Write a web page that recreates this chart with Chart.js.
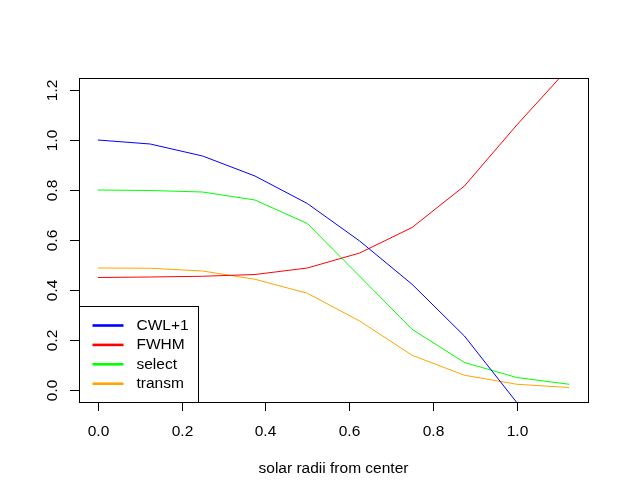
<!DOCTYPE html>
<html><head><meta charset="utf-8">
<script src="https://cdn.jsdelivr.net/npm/chart.js@4/dist/chart.umd.min.js"></script>
<style>html,body{margin:0;padding:0;background:#fff}#wrap{width:628px;height:500px}</style>
</head><body><div id="wrap"><canvas id="c" width="628" height="500"></canvas></div>
<script>
const radii  = [0, 0.125, 0.25, 0.375, 0.5, 0.625, 0.75, 0.875, 1.0, 1.125];
const cwl    = [1.0, 0.984, 0.936, 0.856, 0.746, 0.596, 0.423, 0.216, -0.05, -0.3];
const fwhm   = [0.45, 0.452, 0.455, 0.462, 0.488, 0.548, 0.65, 0.816, 1.06, 1.29];
const select = [0.8, 0.798, 0.792, 0.76, 0.666, 0.455, 0.243, 0.11, 0.05, 0.023];
const transm = [0.488, 0.487, 0.476, 0.443, 0.387, 0.276, 0.139, 0.059, 0.023, 0.01];
const seriesNames = ['CWL+1', 'FWHM', 'select', 'transm'];
const xTicks = [0, 0.2, 0.4, 0.6, 0.8, 1.0];
const yTicks = [0, 0.2, 0.4, 0.6, 0.8, 1.0, 1.2];
const xTitle = 'solar radii from center';

const colors = ['#0000FF', '#FF0000', '#00FF00', '#FFA500'];
const FONT = '15.5px "Liberation Sans", Arial, sans-serif';

function pts(arr){ return radii.map((x,i)=>({x:x, y:arr[i]})); }

const rAxes = {
  id: 'rAxes',
  afterDraw(chart){
    const ctx = chart.ctx, a = chart.chartArea;
    const xs = chart.scales.x, ys = chart.scales.y;
    ctx.save();
    ctx.strokeStyle = '#000'; ctx.lineWidth = 1; ctx.fillStyle = '#000';
    // box
    ctx.strokeRect(Math.round(a.left)+0.5, Math.round(a.top)+0.5, Math.round(a.right-a.left), Math.round(a.bottom-a.top));
    ctx.font = FONT;
    // x axis ticks
    ctx.textAlign = 'center'; ctx.textBaseline = 'middle';
    xTicks.forEach(v=>{
      const px = Math.round(xs.getPixelForValue(v))+0.5;
      ctx.beginPath(); ctx.moveTo(px, a.bottom); ctx.lineTo(px, a.bottom+9); ctx.stroke();
      ctx.fillText(v.toFixed(1), px, 432);
    });
    ctx.fillText(xTitle, (a.left+a.right)/2, 469);
    // y axis ticks
    yTicks.forEach(v=>{
      const py = Math.round(ys.getPixelForValue(v))+0.5;
      ctx.beginPath(); ctx.moveTo(a.left-9, py); ctx.lineTo(a.left, py); ctx.stroke();
      ctx.save(); ctx.translate(53, py); ctx.rotate(-Math.PI/2);
      ctx.fillText(v.toFixed(1), 0, 0); ctx.restore();
    });
    // legend
    const lx = Math.round(a.left)+0.5, lw = 119, lh = 96;
    const ly = Math.round(a.bottom)+0.5 - lh;
    ctx.fillStyle = '#fff'; ctx.fillRect(lx, ly, lw, lh);
    ctx.strokeStyle = '#000'; ctx.strokeRect(lx, ly, lw, lh);
    ctx.textAlign = 'left';
    chart.data.datasets.forEach((ds,i)=>{
      const yy = ly + 19 + i*19.4;
      ctx.strokeStyle = ds.borderColor; ctx.lineWidth = 2.6;
      ctx.beginPath(); ctx.moveTo(lx+13, yy); ctx.lineTo(lx+44, yy); ctx.stroke();
      ctx.fillStyle = '#000';
      ctx.fillText(ds.label, lx+57, yy);
    });
    ctx.restore();
  }
};

new Chart(document.getElementById('c'), {
  type: 'line',
  data: {
    datasets: [cwl, fwhm, select, transm].map((arr,i)=>({
      label: seriesNames[i], data: pts(arr), borderColor: colors[i], backgroundColor: colors[i],
      borderWidth: 1, pointRadius: 0, tension: 0, fill: false
    }))
  },
  options: {
    responsive: false, animation: false, devicePixelRatio: 1,
    layout: { padding: { left: 79, right: 40, top: 78, bottom: 98 } },
    plugins: { legend: { display: false }, tooltip: { enabled: false } },
    scales: {
      x: { type: 'linear', min: -0.045, max: 1.17, display: false },
      y: { type: 'linear', min: -0.048, max: 1.248, display: false }
    }
  },
  plugins: [rAxes]
});
</script></body></html>
